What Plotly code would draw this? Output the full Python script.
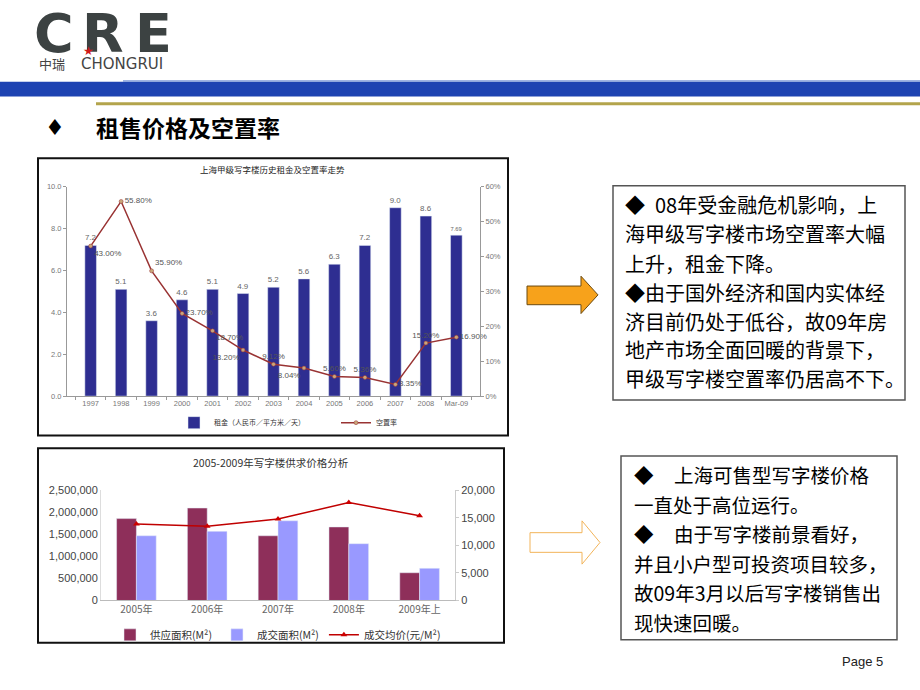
import plotly.graph_objects as go

W, H = 920, 690
def px(x): return x / W
def py(y): return 1 - y / H

# ---------------- data: top chart ----------------
years = ["1997", "1998", "1999", "2000", "2001", "2002", "2003", "2004",
         "2005", "2006", "2007", "2008", "Mar-09"]
rent = [7.2, 5.1, 3.6, 4.6, 5.1, 4.9, 5.2, 5.6, 6.3, 7.2, 9.0, 8.6, 7.69]
rent_labels = ["7.2", "5.1", "3.6", "4.6", "5.1", "4.9", "5.2", "5.6",
               "6.3", "7.2", "9.0", "8.6", "7.69"]
vacancy = [0.43, 0.558, 0.359, 0.237, 0.187, 0.132, 0.0912, 0.0804,
           0.056, 0.0536, 0.0335, 0.152, 0.169]
vacancy_labels = ["43.00%", "55.80%", "35.90%", "23.70%", "18.70%", "13.20%",
                  "9.12%", "8.04%", "5.60%", "5.36%", "3.35%", "15.20%", "16.90%"]
vac_pos = ["bottom right", "middle right", "top right", "middle right",
           "bottom right", "bottom left", "top center", "bottom left",
           "top center", "top center", "middle right", "top center", "middle right"]

# ---------------- data: bottom chart ----------------
periods = ["2005年", "2006年", "2007年", "2008年", "2009年上"]
supply = [1860000, 2100000, 1470000, 1670000, 630000]
deal = [1470000, 1570000, 1810000, 1290000, 730000]
price = [13900, 13500, 14800, 17800, 15400]

fig = go.Figure()

# top chart
fig.add_trace(go.Bar(
    x=years, y=rent, text=rent_labels, textposition="outside",
    textfont=dict(size=8, color="#666666", family="Liberation Sans"),
    marker=dict(color="#2E2E91"), width=0.38, cliponaxis=False,
    name="租金（人民币／平方米／天）", xaxis="x", yaxis="y", legend="legend",
    showlegend=True,
))
fig.add_trace(go.Scatter(
    x=years, y=vacancy, mode="lines+markers+text", text=vacancy_labels,
    textposition=vac_pos,
    textfont=dict(size=8, color="#555555", family="Liberation Sans"),
    line=dict(color="#993333", width=1.5),
    marker=dict(size=4, color="#C9A67A", line=dict(width=0.5, color="#993333")),
    cliponaxis=False, name="空置率", xaxis="x", yaxis="y2", legend="legend2",
    showlegend=True,
))

# bottom chart
fig.add_trace(go.Bar(
    x=periods, y=supply, width=0.28, offset=-0.28,
    marker=dict(color="#8E2F5A"), name="供应面积(M²)",
    xaxis="x2", yaxis="y3", legend="legend3", showlegend=True,
))
fig.add_trace(go.Bar(
    x=periods, y=deal, width=0.28, offset=0,
    marker=dict(color="#9999FF"), name="成交面积(M²)",
    xaxis="x2", yaxis="y3", legend="legend3", showlegend=True,
))
fig.add_trace(go.Scatter(
    x=periods, y=price, mode="lines+markers",
    line=dict(color="#C00000", width=1.5),
    marker=dict(symbol="triangle-up", size=6, color="#CC0000"),
    name="成交均价(元/M²)", xaxis="x2", yaxis="y4", legend="legend3", showlegend=True,
))

tick_small = dict(size=7.5, color="#777777", family="Liberation Sans")
cjk = "Noto Sans CJK SC"

shapes = []
annotations = []

def rect(x0, y0, x1, y1, line="#000", lw=1, fill="rgba(0,0,0,0)"):
    shapes.append(dict(type="rect", xref="paper", yref="paper",
                       x0=px(x0), x1=px(x1), y0=py(y1), y1=py(y0),
                       line=dict(color=line, width=lw), fillcolor=fill, layer="below"))

def path(pts, line, lw, fill):
    d = "M " + " L ".join(f"{px(a):.5f},{py(b):.5f}" for a, b in pts) + " Z"
    shapes.append(dict(type="path", xref="paper", yref="paper", path=d,
                       line=dict(color=line, width=lw), fillcolor=fill))

def text(x, y, s, size, color="#000", family=cjk, xanchor="left", bold=False):
    annotations.append(dict(xref="paper", yref="paper", x=px(x), y=py(y),
                            text=f"<b>{s}</b>" if bold else s, showarrow=False,
                            xanchor=xanchor, yanchor="middle",
                            font=dict(size=size, color=color, family=family)))

# header bands
rect(0, 77, 920, 92, line="rgba(0,0,0,0)", lw=0, fill="#1E43B2")
rect(123, 75.5, 920, 77, line="rgba(0,0,0,0)", lw=0, fill="#7F9AD8")
rect(96, 98, 920, 101, line="rgba(0,0,0,0)", lw=0, fill="#B3A44C")

# logo
text(54, 28, "C", 54, "#3C4242", "DejaVu Sans", "center", True)
text(103, 28, "R", 54, "#3C4242", "DejaVu Sans", "center", True)
text(153, 28, "E", 54, "#3C4242", "DejaVu Sans", "center", True)
text(88, 46, "★", 12, "#D01818", "DejaVu Sans", "center")
text(37, 59, "中瑞", 13, "#444444", cjk)
text(79, 59, "CHONGRUI", 15, "#444444", "DejaVu Sans")

# heading
text(55, 124, "♦", 22, "#000", "DejaVu Sans", "center")
text(94, 123, "租售价格及空置率", 23, "#000", cjk, "left", True)

# chart frames
rect(38, 155, 508, 437, line="#111111", lw=2)
rect(38, 450, 504, 648, line="#111111", lw=2)

text(272, 166, "上海甲级写字楼历史租金及空置率走势", 8.5, "#222222", cjk, "center")
text(271, 465, "2005-2009年写字楼供求价格分析", 10.5, "#333333", cjk, "center")

# arrows
path([(527, 285), (581, 285), (581, 275), (598, 294), (581, 313), (581, 304), (527, 304)],
     "#6B4A10", 1, "#F7A21B")
path([(530, 536), (582, 536), (582, 524), (600, 546), (582, 568), (582, 556), (530, 556)],
     "#F2B45A", 1, "#FFFFFF")

# text boxes
rect(613, 183, 905, 401, line="#555555", lw=1.5)
rect(621, 458, 897, 645, line="#555555", lw=1.5)

top_lines_y = [202, 232, 262, 292, 321, 350, 379]
text(623, top_lines_y[0], "◆", 20)
text(653, top_lines_y[0], "08年受金融危机影响，上", 20)
text(623, top_lines_y[1], "海甲级写字楼市场空置率大幅", 20)
text(623, top_lines_y[2], "上升，租金下降。", 20)
text(623, top_lines_y[3], "◆由于国外经济和国内实体经", 20)
text(623, top_lines_y[4], "济目前仍处于低谷，故09年房", 20)
text(623, top_lines_y[5], "地产市场全面回暖的背景下，", 20)
text(623, top_lines_y[6], "甲级写字楼空置率仍居高不下。", 20)

bot_lines_y = [477, 507, 537, 567, 597, 627]
text(632, bot_lines_y[0], "◆", 19.5)
text(672, bot_lines_y[0], "上海可售型写字楼价格", 19.5)
text(632, bot_lines_y[1], "一直处于高位运行。", 19.5)
text(632, bot_lines_y[2], "◆", 19.5)
text(672, bot_lines_y[2], "由于写字楼前景看好，", 19.5)
text(632, bot_lines_y[3], "并且小户型可投资项目较多，", 19.5)
text(632, bot_lines_y[4], "故09年3月以后写字楼销售出", 19.5)
text(632, bot_lines_y[5], "现快速回暖。", 19.5)

text(885, 667, "Page 5", 13, "#222222", "Liberation Sans", "right")

fig.update_layout(
    width=W, height=H, margin=dict(l=0, r=0, t=0, b=0),
    paper_bgcolor="white", plot_bgcolor="rgba(0,0,0,0)", showlegend=True,
    shapes=shapes, annotations=annotations,
    xaxis=dict(domain=[px(67), px(480)], anchor="y", type="category", tickangle=0,
               showline=True, linecolor="#999999", ticks="outside", tickson="boundaries",
               ticklen=3, tickcolor="#999999", tickfont=tick_small, showgrid=False),
    yaxis=dict(domain=[py(397), py(184)], range=[0, 10], dtick=2, tickformat=".1f",
               showline=True, linecolor="#999999", ticks="outside", ticklen=3,
               tickcolor="#999999", tickfont=tick_small, showgrid=False, zeroline=False),
    yaxis2=dict(overlaying="y", side="right", anchor="x", range=[0, 0.6], dtick=0.1,
                tickformat=".0%", showline=True, linecolor="#999999", ticks="outside",
                ticklen=3, tickcolor="#999999", tickfont=tick_small, showgrid=False,
                zeroline=False),
    xaxis2=dict(domain=[px(101), px(455)], anchor="y3", type="category", tickangle=0,
                showline=True, linecolor="#BBBBBB", ticks="", showgrid=False,
                tickfont=dict(size=10, color="#666666", family=cjk)),
    yaxis3=dict(domain=[py(605), py(493)], anchor="x2", range=[0, 2500000], dtick=500000,
                tickformat=",", showline=True, linecolor="#DDDDDD", showgrid=False,
                zeroline=False, tickfont=dict(size=11, color="#444444", family="Liberation Sans")),
    yaxis4=dict(overlaying="y3", side="right", anchor="x2", range=[0, 20000], dtick=5000,
                tickformat=",", showline=True, linecolor="#CCCCCC", ticks="outside",
                ticklen=3, tickcolor="#CCCCCC", showgrid=False, zeroline=False,
                tickfont=dict(size=11, color="#444444", family="Liberation Sans")),
    legend=dict(orientation="h", x=px(174), y=py(424), xanchor="left", yanchor="middle",
                font=dict(size=7, color="#333333", family=cjk), bgcolor="rgba(0,0,0,0)",
                itemwidth=30, visible=True),
    legend2=dict(orientation="h", x=px(336), y=py(424), xanchor="left", yanchor="middle",
                 font=dict(size=7, color="#333333", family=cjk), bgcolor="rgba(0,0,0,0)",
                 itemwidth=30, visible=True),
    legend3=dict(orientation="h", x=px(110), y=py(640), xanchor="left", yanchor="middle",
                 font=dict(size=10.5, color="#333333", family=cjk), bgcolor="rgba(0,0,0,0)",
                 itemwidth=30, visible=True),
)

fig.write_html("out.html", config={"displayModeBar": False},
               post_script="document.body.style.margin='0px';")
